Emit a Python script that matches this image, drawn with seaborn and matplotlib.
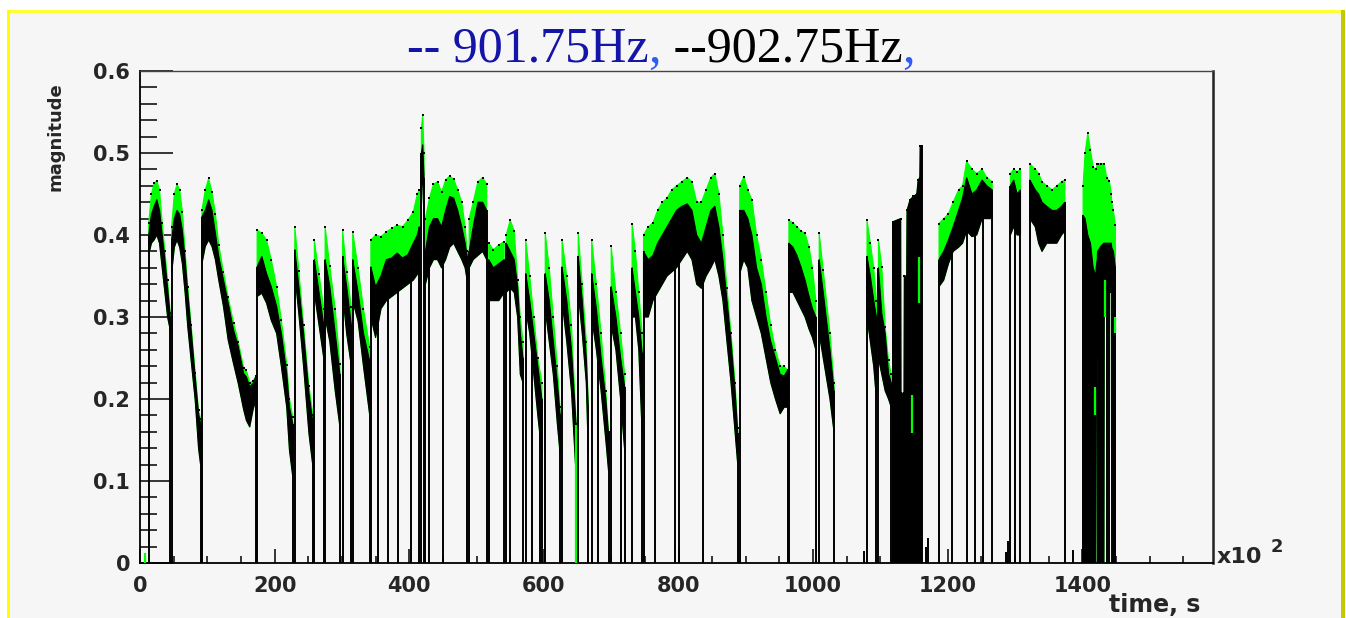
import numpy as np
import pandas as pd
import matplotlib
matplotlib.use("Agg")
import matplotlib.pyplot as plt
from matplotlib.patches import Rectangle
from matplotlib.ticker import MultipleLocator, FuncFormatter
import seaborn as sns

nan = np.nan

# time in units of 100 s; NaN separates the recorded stretches
time = [
    13, 17, 21, 25, 29, 33, 37, 41, 45, nan,
    47, 51, 55, 59, 63, 67, 71, 76, 82, 87, 90, nan,
    92, 97, 102, 107, 112, 117, 124, 131, 139, 146, 154, 158, 163, 168, 172, nan,
    174, 181, 188, 195, 203, 210, 218, 222, 227, nan,
    230, 236, 243, 251, 257, nan,
    259, 266, 273, nan,
    275, 282, 290, 297, nan,
    301, 307, 314, nan,
    316, 324, 332, 341, nan,
    343, 350, 358, 366, 374, 382, 390, 398, 406, 412, 415, nan,
    418, 420, 422, nan,
    424, 430, 436, 442, 448, 454, 460, 466, 472, 478, 483, 486, nan,
    489, 495, 502, 509, 515, nan,
    518, 525, 533, 541, nan,
    544, 550, 556, 561, 565, 569, nan,
    573, 579, 585, 591, 597, nan,
    602, 608, 614, 620, 624, nan,
    627, 634, 641, 648, nan,
    651, 657, 663, 666, nan,
    671, 678, 685, 692, 696, nan,
    700, 707, 714, 720, nan,
    731, 736, 741, 746, nan,
    748, 755, 762, 769, 776, 783, 790, 797, 805, 813, 820, 827, 834, 841, 848, 854, 860, 866, 872, 878, 884, 888, nan,
    891, 897, 903, 909, 916, 923, 930, 937, 944, 951, 957, 962, nan,
    964, 970, 976, 982, 988, 994, 999, 1004, nan,
    1009, 1015, 1025, 1031, nan,
    1080, 1085, 1090, 1094, nan,
    1097, 1102, 1107, 1112, 1116, nan,
    1118, 1130, 1130.5, 1135, 1135.5, 1139, 1139.5, 1144, 1149, 1154, 1156, 1158.5, 1159, 1161, nan,
    1187, 1194, 1201, 1208, 1216, 1222, 1228, 1236, 1243, 1251, 1258, 1266, nan,
    1293, 1298, 1303, 1308, nan,
    1322, 1330, 1335, 1340, 1347, 1355, 1362, 1369, 1374, nan,
    1401, 1404, 1408, 1412, 1416, 1420, 1420.5, 1422, 1422.5, 1428, 1432, 1432.5, 1436, 1440, 1443, 1443.5, 1446, 1449,
]

# 902.75 Hz magnitude: lower edge of the trace band
mag902_lo = [
    .376, .39, .394, .40, .39, .36, .33, .30, .284, nan,
    .353, .385, .394, .385, .365, .33, .288, .247, .199, .14, .12, nan,
    .365, .386, .394, .386, .37, .345, .313, .272, .243, .219, .187, .174, .166, .187, .199, nan,
    .325, .329, .317, .296, .28, .24, .19, .138, .105, nan,
    .353, .304, .24, .158, .117, nan,
    .33, .29, .25, nan,
    .30, .27, .21, .166, nan,
    .33, .28, .24, nan,
    .32, .295, .24, .182, nan,
    .30, .275, .31, .32, .325, .33, .335, .34, .345, .352, .36, nan,
    .46, .463, .42, nan,
    .34, .36, .37, .37, .36, .37, .385, .39, .38, .37, .36, .345, nan,
    .36, .37, .375, .38, .37, nan,
    .32, .32, .32, .33, nan,
    .33, .335, .33, .30, .23, .22, nan,
    .31, .28, .23, .18, .134, nan,
    .31, .27, .23, .17, .134, nan,
    .32, .27, .21, .105, nan,
    .33, .28, .22, .134, nan,
    .30, .26, .21, .15, .113, nan,
    .29, .26, .20, .138, nan,
    .30, .30, .26, .158, nan,
    .30, .30, .32, .33, .34, .35, .355, .36, .37, .38, .37, .34, .335, .35, .36, .37, .35, .32, .27, .22, .16, .12, nan,
    .353, .37, .36, .32, .30, .28, .25, .22, .20, .182, .19, .19, nan,
    .33, .33, .32, .31, .30, .285, .275, .26, nan,
    .28, .25, .20, .16, nan,
    .30, .27, .24, .20, nan,
    .25, .23, .21, .20, .19, nan,
    0, 0, 0, 0, 0, 0, 0, 0, 0, 0, 0, 0, 0, 0, nan,
    .337, .345, .365, .38, .385, .39, .405, .398, .40, .42, .42, .42, nan,
    .40, .41, .40, .40, nan,
    .42, .41, .39, .38, .39, .39, .39, .40, .405, nan,
    0, 0, 0, 0, 0, 0, .25, .25, 0, 0, 0, .33, .33, .33, .33, 0, 0, 0,
]

# 902.75 Hz magnitude: upper edge of the trace band
mag902_hi = [
    .40, .425, .435, .443, .43, .40, .37, .335, .30, nan,
    .394, .42, .43, .425, .405, .37, .329, .284, .227, .182, .17, nan,
    .422, .43, .443, .43, .402, .374, .345, .317, .284, .264, .231, .227, .215, .219, .227, nan,
    .361, .374, .353, .337, .313, .28, .231, .19, .17, nan,
    .382, .337, .28, .207, .17, nan,
    .37, .33, .29, nan,
    .37, .337, .28, .23, nan,
    .374, .337, .29, nan,
    .37, .33, .28, .247, nan,
    .361, .337, .35, .37, .372, .378, .372, .376, .39, .40, .41, nan,
    .50, .51, .47, nan,
    .38, .41, .42, .42, .41, .43, .447, .445, .43, .41, .39, .375, nan,
    .38, .41, .44, .44, .43, nan,
    .37, .36, .365, .37, nan,
    .39, .38, .37, .337, .28, .25, nan,
    .353, .32, .28, .24, .20, nan,
    .353, .32, .27, .22, .182, nan,
    .361, .32, .26, .166, nan,
    .374, .32, .25, .19, nan,
    .353, .31, .25, .20, .158, nan,
    .337, .30, .25, .215, nan,
    .36, .33, .30, .256, nan,
    .38, .37, .375, .39, .40, .41, .42, .43, .435, .438, .43, .40, .39, .41, .43, .435, .41, .37, .32, .27, .21, .158, nan,
    .43, .43, .42, .40, .36, .34, .30, .27, .25, .23, .228, .235, nan,
    .39, .385, .375, .361, .345, .325, .31, .30, nan,
    .37, .33, .26, .21, nan,
    .374, .35, .32, .30, nan,
    .36, .304, .28, .231, .22, nan,
    .416, .42, .207, .207, .35, .35, .43, .443, .447, .45, .467, .47, .508, .508, nan,
    .37, .38, .394, .41, .43, .445, .47, .45, .455, .467, .46, .455, nan,
    .46, .467, .45, .455, nan,
    .467, .455, .45, .44, .435, .43, .43, .435, .44, nan,
    .424, .42, .40, .39, .36, .35, .36, .37, .38, .387, .39, .39, .39, .39, .39, .385, .38, .36,
]

# 901.75 Hz magnitude: upper edge of its trace (drawn beneath 902.75 Hz)
mag901_hi = [
    .415, .45, .463, .466, .455, .415, .38, .345, .305, nan,
    .41, .45, .462, .455, .428, .38, .337, .29, .232, .186, .176, nan,
    .43, .455, .469, .452, .426, .388, .355, .324, .293, .27, .238, .235, .22, .222, .228, nan,
    .406, .402, .394, .37, .337, .296, .242, .2, .178, nan,
    .41, .356, .29, .216, .18, nan,
    .394, .352, .31, nan,
    .41, .362, .31, .243, nan,
    .406, .355, .312, nan,
    .404, .36, .31, .264, nan,
    .394, .40, .398, .404, .408, .412, .41, .418, .428, .45, .455, nan,
    .53, .546, .50, nan,
    .42, .445, .462, .465, .452, .467, .472, .468, .455, .44, .41, .38, nan,
    .42, .44, .465, .47, .462, nan,
    .39, .382, .388, .392, nan,
    .40, .418, .405, .345, .30, .27, nan,
    .394, .35, .30, .25, .22, nan,
    .402, .36, .30, .24, .19, nan,
    .394, .35, .29, .17, nan,
    .402, .34, .27, .19, nan,
    .394, .34, .28, .21, .16, nan,
    .386, .33, .28, .23, nan,
    .414, .38, .33, .28, nan,
    .40, .41, .415, .43, .44, .445, .455, .46, .465, .47, .465, .44, .44, .455, .47, .475, .45, .40, .335, .28, .22, .165, nan,
    .46, .471, .455, .443, .40, .37, .33, .29, .26, .24, .24, .235, nan,
    .418, .415, .41, .405, .402, .385, .36, .32, nan,
    .402, .357, .28, .22, nan,
    .418, .39, .36, .32, nan,
    .394, .361, .288, .247, .23, nan,
    .416, .42, .207, .207, .35, .35, .43, .443, .447, .45, .467, .47, .508, .508, nan,
    .414, .42, .426, .44, .455, .46, .49, .48, .475, .48, .47, .465, nan,
    .475, .48, .477, .48, nan,
    .487, .48, .475, .465, .46, .455, .46, .465, .467, nan,
    .46, .50, .524, .504, .483, .48, .48, .487, .487, .487, .487, .487, .47, .466, .45, .44, .43, .412,
]

# dropouts inside the stretches (902.75 Hz falls to zero)
drop_time = [354, 369, 384, 402, 429, 450, 549, 582, 594, 681, 715, 765, 795, 801, 837,
             1206, 1228, 1241, 1253, 1300, 1436, 1439]
drop_top = [.30, .33, .34, .35, .37, .37, .34, .29, .16, .27, .22, .33, .36, .37, .35,
            .38, .41, .41, .43, .41, .39, .39]

# isolated short readings near zero
stub_time = [1075, 1168, 1171, 1286, 1289, 1386]
stub_top = [.015, .02, .03, .013, .027, .016]

# 901.75 Hz pieces left uncovered by the 902.75 Hz trace
g_time = [7, 647, 1147, 1157, 1419, 1433, 1448]
g_lo = [0, 0, .158, .317, .18, .30, .28]
g_hi = [.012, .17, .205, .373, .215, .345, .30]

title_parts = ["-- 901.75Hz", ",", " --902.75Hz", ","]
title_colors = ["#1414a8", "#2f5cf2", "#000000", "#2f5cf2"]

PANEL = "#f6f6f6"
GREEN = "#00ff00"

sns.set_theme(style="ticks")
plt.rcParams["font.family"] = ["DejaVu Sans"]
plt.rcParams["font.weight"] = "bold"

W, H = 1346, 618
fig = plt.figure(figsize=(W / 100, H / 100), dpi=100)
fig.patch.set_facecolor("white")

# pad background and its yellow frame
fig.add_artist(Rectangle((10 / W, 0), 1331 / W, 1 - 13 / H, transform=fig.transFigure,
                         fc=PANEL, ec="none", zorder=-5))
fig.add_artist(Rectangle((7 / W, 1 - 13 / H), 1338 / W, 3 / H, transform=fig.transFigure,
                         fc="#ffff33", ec="none", zorder=-4))
fig.add_artist(Rectangle((7 / W, 0), 3 / W, 1 - 10 / H, transform=fig.transFigure,
                         fc="#ffff00", ec="none", zorder=-4))
fig.add_artist(Rectangle((1341 / W, 0), 4 / W, 1 - 10 / H, transform=fig.transFigure,
                         fc="#c8c800", ec="none", zorder=-4))

ax = fig.add_axes([140 / W, 1 - 563 / H, (1213 - 140) / W, (563 - 71) / H])
ax.set_facecolor(PANEL)

t = np.asarray(time, float)
lo = np.asarray(mag902_lo, float)
hi = np.asarray(mag902_hi, float)
gr = np.asarray(mag901_hi, float)

# 901.75 Hz band underneath, 902.75 Hz band on top
ax.fill_between(t, lo, gr, color=GREEN, lw=0.8, ec=GREEN, zorder=2)
ax.fill_between(t, lo, hi, color="black", lw=0.8, ec="black", zorder=3)

# every stretch starts and ends with a drop to zero
valid = ~np.isnan(t)
edges = np.flatnonzero(np.diff(np.r_[0, valid.astype(int), 0]))
starts, ends = edges[::2], edges[1::2] - 1
edge_idx = np.r_[starts, ends]
ax.vlines(t[edge_idx], 0, hi[edge_idx], colors="black", lw=1.4, zorder=4)
ax.vlines(drop_time, 0, drop_top, colors="black", lw=1.4, zorder=4)
ax.vlines(stub_time, 0, stub_top, colors="black", lw=1.4, zorder=4)
ax.vlines(g_time, g_lo, g_hi, colors=GREEN, lw=1.6, zorder=5)

# sample markers on the 901.75 Hz crest
pts = pd.DataFrame({"time": t, "mag": gr}).dropna()
sns.scatterplot(data=pts, x="time", y="mag", color="black", s=3, marker="s",
                linewidth=0, ax=ax, legend=False, zorder=6)

ax.set_xlim(0, 1594)
ax.set_ylim(0, 0.6)
ax.set_xlabel("")
ax.set_ylabel("")
ax.xaxis.set_major_locator(MultipleLocator(200))
ax.xaxis.set_minor_locator(MultipleLocator(50))
ax.yaxis.set_major_locator(MultipleLocator(0.1))
ax.yaxis.set_minor_locator(MultipleLocator(0.02))
ax.yaxis.set_major_formatter(FuncFormatter(lambda v, p: f"{v:g}"))
ax.tick_params(axis="y", which="major", direction="in", length=23.8, width=1.1,
               color="black", pad=7, labelsize=15)
ax.tick_params(axis="y", which="minor", direction="in", length=12.2, width=1.1, color="black")
ax.tick_params(axis="x", which="major", direction="in", length=10, width=1.1,
               color="black", pad=9, labelsize=15)
ax.tick_params(axis="x", which="minor", direction="in", length=5, width=1.1, color="black")
for lab in ax.get_xticklabels() + ax.get_yticklabels():
    lab.set_fontweight("bold")

for side in ["left", "bottom"]:
    ax.spines[side].set_color("black")
    ax.spines[side].set_linewidth(1.3)
ax.spines["top"].set_color("#444444")
ax.spines["top"].set_linewidth(1.0)
ax.spines["right"].set_color("#222222")
ax.spines["right"].set_linewidth(1.8)

fig.text(1217 / W, 1 - 563 / H, "x10", fontsize=16, fontweight="bold", ha="left", va="baseline")
fig.text(1271 / W, 1 - 552 / H, "2", fontsize=13, fontweight="bold", ha="left", va="baseline")
fig.text(1200 / W, 1 - 612 / H, "time, s", fontsize=17, fontweight="bold", ha="right", va="baseline")
fig.text(56 / W, 1 - 82 / H, "magnitude", fontsize=13, fontweight="bold", rotation=90,
         ha="center", va="top")

# title made of coloured pieces placed one after another
pieces = []
first = fig.text(408 / W, 1 - 62 / H, title_parts[0], color=title_colors[0], fontsize=36,
                 family="Liberation Serif", fontweight="normal", ha="left", va="baseline")
pieces.append(first)
prev = first
for s, c in zip(title_parts[1:], title_colors[1:]):
    nxt = ax.annotate(s, xy=(1, 0), xycoords=prev, ha="left", va="bottom", color=c,
                      fontsize=36, family="Liberation Serif", fontweight="normal",
                      annotation_clip=False)
    pieces.append(nxt)
    prev = nxt
fig.canvas.draw()
r = fig.canvas.get_renderer()
x_left = min(p.get_window_extent(r).x0 for p in pieces)
x_right = max(p.get_window_extent(r).x1 for p in pieces)
shift = 661 - (x_left + x_right) / 2
first.set_x((408 + shift) / W)

fig.savefig("out.png", dpi=100, facecolor=fig.get_facecolor())
